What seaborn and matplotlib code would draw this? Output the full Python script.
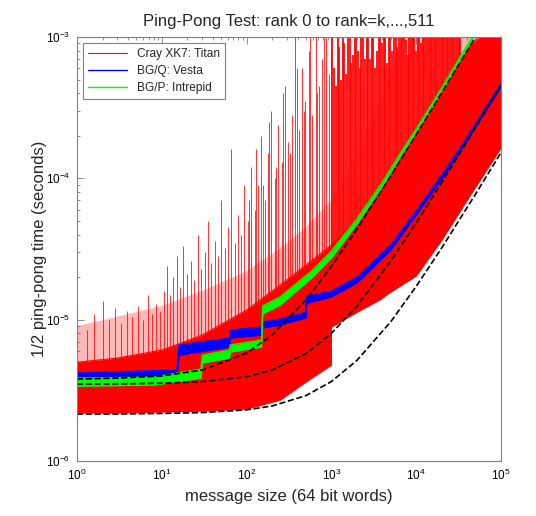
import numpy as np
import matplotlib
matplotlib.use('Agg')
import matplotlib.pyplot as plt
import seaborn as sns
from matplotlib.ticker import LogLocator

# values: message size (64 bit words) vs 1/2 ping-pong time (s)

# Cray XK7 Titan: dense band of the 511 ranks
red_n = [1, 3, 10, 30, 100, 250, 500, 999, 1000, 2000, 3700, 5000, 1e4, 2e4, 4e4, 5.7e4, 1e5]
red_low = [2.18e-6, 2.18e-6, 2.22e-6, 2.25e-6, 2.33e-6, 2.70e-6, 3.62e-6, 4.77e-6, 8.87e-6,
           1.13e-5, 1.38e-5, 1.57e-5, 2.04e-5, 3.66e-5, 7.02e-5, 9.73e-5, 1.64e-4]
red_high = [5.0e-6, 5.35e-6, 6.09e-6, 7.78e-6, 1.17e-5, 1.76e-5, 2.43e-5, 3.37e-5, 3.37e-5,
            5.07e-5, 8.97e-5, 1.15e-4, 2.03e-4, 3.89e-4, 8.5e-4, 1.0e-3, 1.0e-3]

# thinner mesh of red lines above the dense band
mesh_n = [1, 3, 10, 30, 100, 250, 500, 1000, 2000, 4000, 7000, 1e5]
mesh_top = [9.0e-6, 1.05e-5, 1.25e-5, 1.6e-5, 2.2e-5, 3.2e-5, 4.5e-5, 7.0e-5, 1.5e-4, 4.0e-4, 1.0e-3, 1.0e-3]

# spikes of single ranks
spike_n = [1.3, 1.6, 2, 2.4, 2.8, 3.3, 3.9, 4.5, 5.2, 6, 6.8, 7.7, 8.6, 9.5,
           10.5, 11.5, 12.5, 13.5, 15, 16.5, 18, 20, 22, 24, 26.5, 29, 32, 35, 38, 42, 46, 50, 55, 60,
           66, 72, 79, 86, 94,
           103, 113, 124, 136, 149, 163, 179, 196, 215, 236, 259, 284, 311, 341, 374, 410, 450, 494,
           542, 594, 652, 715, 784, 860, 943,
           1030, 1130, 1240, 1360, 1490, 1640, 1800, 1970, 2160, 2370,
           2600, 2850, 3130, 3430, 3770, 4130, 4530, 4970, 5450, 5980,
           6560, 7200, 7900, 8660, 9500, 10400, 11400, 12500, 13700, 15100,
           16500, 18100, 19900, 21800, 23900, 26300, 28800, 31600]
spike_t = [8.5e-6, 1.1e-5, 1.35e-5, 1.0e-5, 1.2e-5, 9.5e-6, 1.15e-5, 1.05e-5, 1.25e-5, 1.0e-5,
           1.5e-5, 1.1e-5, 1.3e-5, 1.15e-5,
           1.6e-5, 2.4e-5, 1.5e-5, 2.0e-5, 2.8e-5, 1.7e-5, 3.3e-5, 2.1e-5, 2.6e-5, 1.9e-5,
           4.0e-5, 2.3e-5, 3.0e-5, 5.0e-5, 2.5e-5, 3.6e-5, 2.8e-5, 7.0e-5, 3.2e-5, 4.5e-5,
           1.6e-4, 3.5e-5, 5.5e-5, 4.0e-5, 9.0e-5,
           5.0e-5, 1.2e-4, 6.0e-5, 9.0e-5, 2.0e-4, 7.0e-5, 1.5e-4, 3.0e-4, 1.0e-4, 2.4e-4,
           1.3e-4, 4.5e-4, 1.8e-4, 2.8e-4, 1.0e-3, 2.2e-4, 6.0e-4, 3.5e-4, 8.0e-4, 2.8e-4,
           1.0e-3, 4.5e-4, 7.0e-4, 1.0e-3, 5.5e-4,
           1.0e-3, 4.5e-4, 8.5e-4, 1.0e-3, 5.5e-4, 1.0e-3, 7.5e-4, 1.0e-3, 6.0e-4, 1.0e-3,
           1.0e-3, 7.0e-4, 1.0e-3, 8.0e-4, 1.0e-3, 1.0e-3, 6.5e-4, 1.0e-3, 1.0e-3, 8.5e-4,
           1.0e-3, 1.0e-3, 7.5e-4, 1.0e-3, 1.0e-3, 1.0e-3, 9.0e-4, 1.0e-3, 1.0e-3, 1.0e-3,
           1.0e-3, 1.0e-3, 1.0e-3, 1.0e-3, 1.0e-3, 1.0e-3, 1.0e-3, 1.0e-3]
spike2_n = [108, 130, 155, 186, 225, 270, 325, 390, 470, 565, 680, 820, 980,
            1080, 1190, 1300, 1420, 1560, 1720, 1890, 2060, 2260, 2480,
            2720, 2990, 3280, 3600, 3950, 4330, 4750, 5210, 5710, 6270,
            6880, 7550, 8280, 9080, 9950, 10900, 11950, 13100, 14400, 15800,
            17300, 19000, 20800, 22800, 25000, 27500, 30100, 33000]
spike2_t = [7e-5, 1.6e-4, 9e-5, 2.5e-4, 1.2e-4, 4e-4, 1.5e-4, 6e-4, 3e-4, 1e-3, 4e-4, 1e-3, 8e-4,
            6e-4, 1e-3, 5e-4, 9e-4, 1e-3, 6.5e-4, 1e-3, 8e-4, 1e-3, 7e-4,
            1e-3, 1e-3, 6e-4, 1e-3, 9e-4, 1e-3, 1e-3, 8e-4, 1e-3, 1e-3,
            1e-3, 9.5e-4, 1e-3, 1e-3, 8e-4, 1e-3, 1e-3, 1e-3, 1e-3, 1e-3,
            1e-3, 1e-3, 1e-3, 1e-3, 1e-3, 1e-3, 1e-3, 1e-3]

# BG/Q Vesta band
bgq_n = [1, 15, 16, 63, 64, 150, 152, 250, 500, 512, 1000, 2000, 5000, 1e4, 2e4, 3.3e4, 5e4, 1e5]
bgq_low = [3.74e-6, 3.92e-6, 5.61e-6, 6.40e-6, 7.41e-6, 7.78e-6, 8.73e-6, 9.16e-6, 1.03e-5,
           1.31e-5, 1.45e-5, 1.82e-5, 3.11e-5, 5.50e-5, 9.89e-5, 1.56e-4, 2.31e-4, 4.43e-4]
bgq_high = [4.19e-6, 4.40e-6, 6.61e-6, 7.41e-6, 8.44e-6, 8.87e-6, 9.61e-6, 1.01e-5, 1.13e-5,
            1.47e-5, 1.59e-5, 2.00e-5, 3.37e-5, 5.87e-5, 1.055e-4, 1.64e-4, 2.42e-4, 4.65e-4]

# BG/P Intrepid band
bgp_n = [1, 8, 29, 30, 63, 64, 150, 155, 250, 600, 1000, 2000, 4000, 7000, 1e4, 2e4, 5e4]
bgp_low = [3.39e-6, 3.44e-6, 3.86e-6, 4.93e-6, 5.35e-6, 5.90e-6, 6.40e-6, 1.10e-5, 1.27e-5,
           2.00e-5, 2.73e-5, 4.75e-5, 8.82e-5, 1.53e-4, 2.13e-4, 4.15e-4, 1.05e-3]
bgp_high = [3.86e-6, 3.92e-6, 4.47e-6, 5.61e-6, 6.09e-6, 6.61e-6, 7.17e-6, 1.25e-5, 1.45e-5,
            2.24e-5, 3.06e-5, 5.15e-5, 9.42e-5, 1.61e-4, 2.23e-4, 4.36e-4, 1.10e-3]

# dashed model curves
model_n = [1, 3, 10, 30, 100, 200, 500, 1000, 2000, 5000, 1e4, 2e4, 5e4, 1e5]
model_bgp = [3.80e-6, 3.86e-6, 4.00e-6, 4.40e-6, 5.80e-6, 7.80e-6, 1.38e-5, 2.38e-5, 4.38e-5,
             1.04e-4, 2.04e-4, 4.04e-4, 1.00e-3, 2.00e-3]
model_bgq = [3.50e-6, 3.51e-6, 3.55e-6, 3.64e-6, 3.95e-6, 4.40e-6, 5.75e-6, 8.00e-6, 1.25e-5,
             2.60e-5, 4.85e-5, 9.35e-5, 2.29e-4, 4.54e-4]
model_titan = [2.15e-6, 2.15e-6, 2.17e-6, 2.20e-6, 2.30e-6, 2.45e-6, 2.90e-6, 3.65e-6, 5.15e-6,
               9.65e-6, 1.72e-5, 3.22e-5, 7.72e-5, 1.52e-4]

sns.set_style('ticks')
plt.rcParams['font.family'] = ['Liberation Sans', 'DejaVu Sans']
plt.rcParams['mathtext.fontset'] = 'custom'
plt.rcParams['mathtext.rm'] = 'Liberation Sans'
plt.rcParams['mathtext.it'] = 'Liberation Sans:italic'
plt.rcParams['mathtext.bf'] = 'Liberation Sans:bold'

fig = plt.figure(figsize=(5.36, 5.16), dpi=100)
ax = fig.add_axes([77 / 536, 55 / 516, 424 / 536, 424 / 516])
ax.set_xscale('log')
ax.set_yscale('log')

red = '#ff0000'
all_n = np.array(spike_n + spike2_n)
all_t = np.array(spike_t + spike2_t)
big = all_n >= 1000
ax.fill_between(mesh_n, 1e-7, mesh_top, color=red, alpha=0.28, lw=0, zorder=1.0)
ax.vlines(all_n[~big], 1e-7, all_t[~big], color=red, lw=0.7, alpha=0.8, zorder=1.1)
ax.vlines(all_n[big], 1e-7, all_t[big], color=red, lw=1.4, alpha=0.9, zorder=1.1)
ax.fill_between(red_n, 1e-7, red_low, color='white', lw=0, zorder=1.2)
ax.fill_between(red_n, red_low, red_high, color=red, lw=0, zorder=1.3)
sns.lineplot(x=red_n, y=red_high, color=red, lw=0.8, label='Cray XK7: Titan',
             estimator=None, sort=False, zorder=1.3, ax=ax)

ax.fill_between(bgq_n, bgq_low, bgq_high, color='blue', lw=0, zorder=1.5)
sns.lineplot(x=bgq_n, y=bgq_high, color='blue', lw=1.0, label='BG/Q: Vesta',
             estimator=None, sort=False, zorder=1.5, ax=ax)
sns.lineplot(x=bgq_n, y=bgq_low, color='blue', lw=1.0, estimator=None, sort=False,
             legend=False, zorder=1.5, ax=ax)

ax.fill_between(bgp_n, bgp_low, bgp_high, color='#00ff00', lw=0, zorder=1.6)
sns.lineplot(x=bgp_n, y=bgp_high, color='#00ff00', lw=1.0, label='BG/P: Intrepid',
             estimator=None, sort=False, zorder=1.6, ax=ax)
sns.lineplot(x=bgp_n, y=bgp_low, color='#00ff00', lw=1.0, estimator=None, sort=False,
             legend=False, zorder=1.6, ax=ax)

for m in [model_bgp, model_bgq, model_titan]:
    sns.lineplot(x=model_n, y=m, color='black', lw=1.2, ls='--', estimator=None,
                 sort=False, legend=False, zorder=2, ax=ax)

ax.set_xlim(1, 1e5)
ax.set_ylim(1e-6, 1e-3)

for axis in [ax.xaxis, ax.yaxis]:
    axis.set_major_locator(LogLocator(base=10, numticks=12))
    axis.set_minor_locator(LogLocator(base=10, subs=np.arange(2, 10), numticks=12))

ax.tick_params(which='both', direction='in', top=True, right=True, color='#808080',
               width=0.6, labelsize=8.5, labelcolor='black')
ax.tick_params(which='major', length=5, pad=5)
ax.tick_params(which='minor', length=2.5)
for sp in ax.spines.values():
    sp.set_color('#808080')
    sp.set_linewidth(0.8)

ax.set_title('Ping-Pong Test: rank 0 to rank=k,...,511', fontsize=12, pad=8)
ax.set_xlabel('message size (64 bit words)', fontsize=12, labelpad=4)
ax.set_ylabel('1/2 ping-pong time (seconds)', fontsize=12)
ax.yaxis.set_label_coords(-0.071, 0.5)

leg = ax.legend(loc='upper left', fontsize=8.6, frameon=True, fancybox=False,
                edgecolor='#808080', framealpha=1, handlelength=3.3,
                borderaxespad=0.5, labelspacing=0.42, borderpad=0.4)
leg.get_frame().set_linewidth(0.8)

fig.savefig('out.png', dpi=100)
